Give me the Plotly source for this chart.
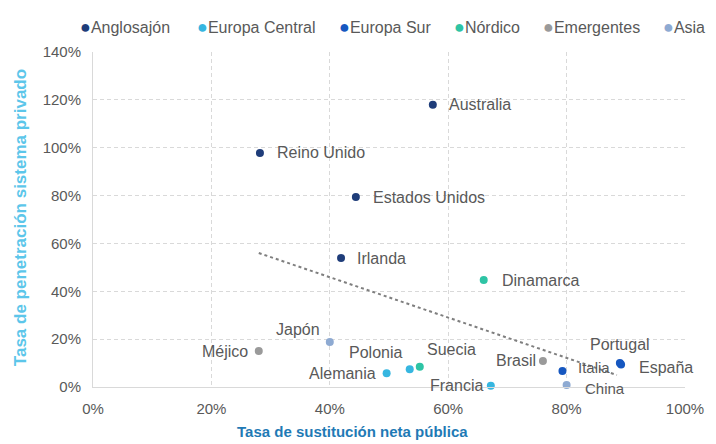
import plotly.graph_objects as go

# Data (percent)
countries = ["Australia", "Reino Unido", "Estados Unidos", "Irlanda",
             "Alemania", "Polonia", "Francia",
             "Italia", "España", "Portugal",
             "Suecia", "Dinamarca",
             "Méjico", "Brasil",
             "Japón", "China"]
groups = ["Anglosajón", "Anglosajón", "Anglosajón", "Anglosajón",
          "Europa Central", "Europa Central", "Europa Central",
          "Europa Sur", "Europa Sur", "Europa Sur",
          "Nórdico", "Nórdico",
          "Emergentes", "Emergentes",
          "Asia", "Asia"]
sustitucion = [57.4, 28.2, 44.4, 41.9,
               49.6, 53.5, 67.2,
               79.3, 89.2, 89.0,
               55.2, 66.0,
               28.0, 76.0,
               40.0, 80.0]
penetracion = [118.0, 97.8, 79.4, 53.9,
               5.7, 7.4, 0.5,
               6.7, 9.4, 10.0,
               8.5, 44.7,
               15.0, 10.9,
               18.8, 0.8]

group_names = ["Anglosajón", "Europa Central", "Europa Sur", "Nórdico", "Emergentes", "Asia"]
group_colors = ["#1f3d7a", "#36b6e0", "#1657c0", "#2ec4a5", "#9a9a9a", "#8eaad2"]

trend_x = [28.0, 88.5]
trend_y = [56.0, 5.0]

x_ticks = [0, 20, 40, 60, 80, 100]
y_ticks = [0, 20, 40, 60, 80, 100, 120, 140]

# Label placement (style only): xanchor, xshift, yshift in px
label_style = {
    "Australia": ("left", 15, 0),
    "Reino Unido": ("left", 16, 0),
    "Estados Unidos": ("left", 16, 0),
    "Irlanda": ("left", 15, 0),
    "Alemania": ("right", -10, 0),
    "Polonia": ("center", -34, 17),
    "Francia": ("right", -7, 0),
    "Italia": ("left", 15, 3),
    "España": ("left", 17, -3),
    "Portugal": ("center", 0, 19),
    "Suecia": ("center", 32, 17),
    "Dinamarca": ("left", 17, 0),
    "Méjico": ("right", -10, 0),
    "Brasil": ("right", -6, 0),
    "Japón": ("center", -32, 13),
    "China": ("left", 17, -3),
}
legend_x = [-0.0245, 0.173, 0.413, 0.6056, 0.756, 0.960]

FONT = "Arial, Liberation Sans, sans-serif"
TEXT_COLOR = "#595959"

fig = go.Figure()

fig.add_trace(go.Scatter(
    x=trend_x, y=trend_y, mode="lines",
    line=dict(color="#7f7f7f", width=2, dash="dot"),
    showlegend=False, hoverinfo="skip"))

for g, c in zip(group_names, group_colors):
    idx = [i for i, gg in enumerate(groups) if gg == g]
    fig.add_trace(go.Scatter(
        x=[sustitucion[i] for i in idx],
        y=[penetracion[i] for i in idx],
        text=[countries[i] for i in idx],
        mode="markers",
        marker=dict(color=c, size=8),
        name=g, showlegend=False, cliponaxis=False))

# Country labels anchored to the data points
for name, xv, yv in zip(countries, sustitucion, penetracion):
    xa, xs, ys = label_style[name]
    fig.add_annotation(
        x=xv, y=yv, xref="x", yref="y", text=name, showarrow=False,
        xanchor=xa, yanchor="middle", xshift=xs, yshift=ys,
        font=dict(family=FONT, size=16 if name not in ("Italia", "China") else 15,
                  color=TEXT_COLOR),
        borderpad=0)

# Legend items
for g, c, lx in zip(group_names, group_colors, legend_x):
    fig.add_annotation(
        text=f'<span style="font-size:18px;color:{c}">●</span>{g}',
        xref="paper", yref="paper", x=lx, y=1.0746,
        xanchor="left", yanchor="middle", showarrow=False,
        font=dict(family=FONT, size=16, color=TEXT_COLOR))

# Axis titles
fig.add_annotation(
    text="<b>Tasa de sustitución neta pública</b>",
    xref="paper", yref="paper", x=0.439, y=-0.134,
    xanchor="center", yanchor="middle", showarrow=False,
    font=dict(family=FONT, size=15, color="#1f7ab5"))
fig.add_annotation(
    text="<b>Tasa de penetración sistema privado</b>",
    xref="paper", yref="paper", x=-0.1233, y=0.504, textangle=-90,
    xanchor="center", yanchor="middle", showarrow=False,
    font=dict(family=FONT, size=17, color="#5cc6ea"))

axis_common = dict(showgrid=True, gridcolor="#d9d9d9", griddash="4px,3px", gridwidth=1,
                   zeroline=False, showline=True, linecolor="#d9d9d9", linewidth=1,
                   ticks="outside", ticklen=8, tickcolor="rgba(0,0,0,0)",
                   tickfont=dict(family=FONT, size=15, color=TEXT_COLOR),
                   tickmode="array", automargin=False)

fig.update_xaxes(range=[0, 100], tickvals=x_ticks,
                 ticktext=[f"{v}%" for v in x_ticks], **axis_common)
fig.update_yaxes(range=[0, 140], tickvals=y_ticks,
                 ticktext=[f"{v}%" for v in y_ticks], **axis_common)

fig.update_layout(
    width=716, height=444,
    margin=dict(l=85, r=39, t=44, b=65),
    paper_bgcolor="white", plot_bgcolor="white",
    showlegend=False)

fig.write_html("out.html")
